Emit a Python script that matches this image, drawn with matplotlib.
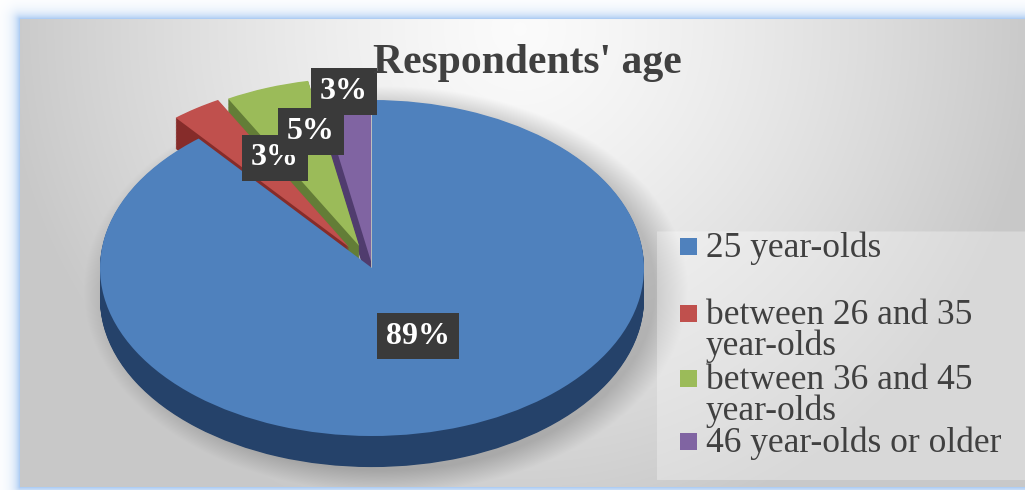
import numpy as np
import matplotlib.pyplot as plt
from matplotlib.patches import Rectangle

# data
categories = ["25 year-olds", "between 26 and 35\nyear-olds",
              "between 36 and 45\nyear-olds", "46 year-olds or older"]
shares = [89, 3, 5, 3]
title = "Respondents' age"

# styling
TOP = ["#4f81bd", "#c0504d", "#9bbb59", "#8064a2"]
SIDE = ["#25426a", "#862c2a", "#637d37", "#503c6e"]
EXPLODE = [0, 0.15, 0.14, 0.04]
LABEL_XY = [(0.169, -0.405), (-0.357, 0.655), (-0.224, 0.815), (-0.103, 1.048)]
LEG_Y = [246, 313, 378, 441]

W, H = 1025, 490
CX, CY, RX, RY = 372, 268, 272, 168   # pie centre / radii in pixels
DEPTH = 0.185

plt.rcParams["font.family"] = ["Liberation Serif", "DejaVu Serif"]

fig = plt.figure(figsize=(W / 100, H / 100), dpi=100)

# background: blue glow frame + grey radial panel + pie shadow
bg = fig.add_axes([0, 0, 1, 1])
yy, xx = np.mgrid[0:H, 0:W] + 0.5
px0, py0, px1, py1 = 20, 20, W + 10, 487
dx = np.maximum(np.maximum(px0 - xx, xx - px1), 0)
dy = np.maximum(np.maximum(py0 - yy, yy - py1), 0)
d = np.hypot(dx, dy)
inside = d == 0
r = np.clip(np.hypot((xx - 520) / 520, (yy - 30) / 520), 0, 1)
v = 0.985 - 0.2 * r ** 1.3
sr = np.hypot((xx - 386) / 280, (yy - 290) / 188)
v = v * (1 - 0.2 * np.clip((1.08 - sr) / 0.12, 0, 1))
leg = (xx > 657) & (yy > 232) & (yy < 480)
v = np.where(leg, v + (1 - v) * 0.3, v)
a = np.exp(-d / 6)[..., None]
glow = np.array([0.66, 0.79, 0.95]) * a + (1 - a)
img = np.where(inside[..., None], v[..., None] * np.ones(3), glow)
bg.imshow(img, extent=(0, W, H, 0), interpolation="bilinear")
bg.set_aspect("auto")
bg.set_xlim(0, W)
bg.set_ylim(H, 0)
bg.axis("off")

# 3D-ish pie: stacked dark layers then the top face
ax = fig.add_axes([0, 0, 1, 1])
ax.patch.set_visible(False)
for k in np.linspace(DEPTH, 0, 40, endpoint=False):
    ax.pie(shares, colors=SIDE, startangle=90, counterclock=False,
           explode=EXPLODE, center=(0, -k), wedgeprops=dict(linewidth=0))
ax.pie(shares, colors=TOP, startangle=90, counterclock=False,
       explode=EXPLODE, center=(0, 0), wedgeprops=dict(linewidth=0))
ax.set_aspect("auto")
ax.set_xlim(-CX / RX, (W - CX) / RX)
ax.set_ylim((CY - H) / RY, CY / RY)
ax.axis("off")

for (x, y), s in zip(LABEL_XY, shares):
    ax.text(x, y, f"{s}%", ha="center", va="center", fontsize=23,
            fontweight="bold", color="white",
            bbox=dict(boxstyle="square,pad=0.28", fc="#3a3a3a", ec="none"))

fig.text(527 / W, 1 - 73 / H, title, ha="center", va="baseline",
         fontsize=30, fontweight="bold", color="#404040")

# legend drawn by hand to keep Excel's uneven spacing
for i, (lab, yc) in enumerate(zip(categories, LEG_Y)):
    bg.add_patch(Rectangle((680, yc - 8.5), 17, 17, color=TOP[i], lw=0))
    bg.text(706, yc + 11 + 31 * lab.count("\n"), lab, va="baseline",
            ha="left", fontsize=25.5, color="#404040", linespacing=0.9)

fig.savefig("out.png", dpi=100)
